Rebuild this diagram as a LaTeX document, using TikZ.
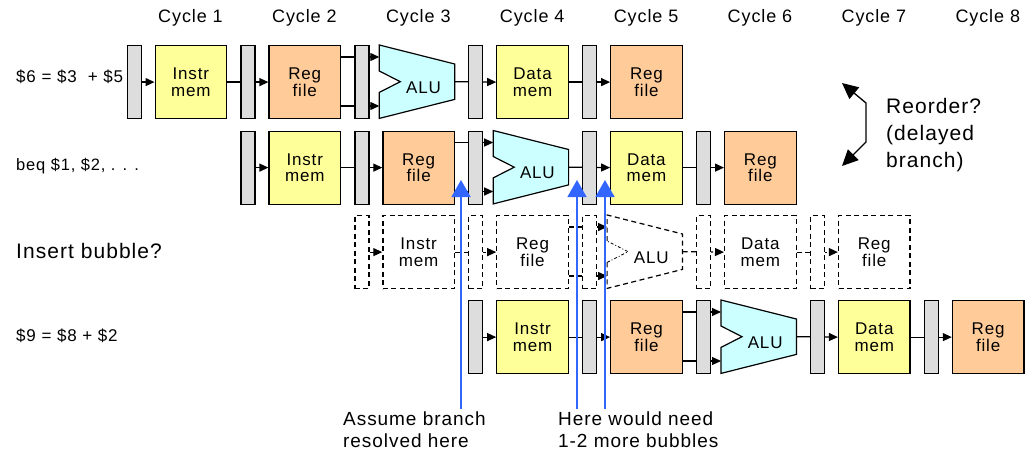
\documentclass[tikz,border=0pt]{standalone}
\usepackage{fontspec}
\setmainfont{Liberation Sans}[LetterSpace=5]
\usetikzlibrary{arrows.meta}

\definecolor{memYellow}{HTML}{FFFF99}
\definecolor{regPeach}{HTML}{FFCC99}
\definecolor{aluCyan}{HTML}{CCFFFF}
\definecolor{barGray}{HTML}{DDDDDD}
\definecolor{hintBlue}{HTML}{3366FF}

\pgfdeclarelayer{wires}
\pgfsetlayers{wires,main}

\newcommand\setfs[2]{\fontsize{#1}{#2}\selectfont}

\tikzset{
  stage/.style={draw, line width=1.2pt, inner sep=0pt, anchor=north west, minimum height=73pt},
  pbar/.style={stage, minimum width=14pt},
  box/.style={stage, minimum width=71.5pt, align=center, font=\setfs{17}{16.6}},
  alubox/.style={anchor=north west, inner sep=0pt, minimum width=75pt, minimum height=73pt},
  alutext/.style={anchor=base, inner sep=0pt, font=\setfs{17}{20}},
  ghost dash/.style={dash pattern=on 5pt off 3.5pt},
  % solid pipeline look
  real bar/.style={fill=barGray},
  real mem/.style={fill=memYellow},
  real reg/.style={fill=regPeach},
  real line/.style={},
  real alu outline/.style={draw, fill=aluCyan, line width=1.2pt, line join=miter},
  real alu shell/.style={},
  real alu notch/.style={},
  % bubble (ghost) pipeline look
  ghost bar/.style={fill=white, ghost dash},
  ghost mem/.style={fill=white, ghost dash},
  ghost reg/.style={fill=white, ghost dash},
  ghost line/.style={ghost dash},
  ghost alu outline/.style={fill=white},
  ghost alu shell/.style={draw, line width=1.2pt, ghost dash},
  ghost alu notch/.style={draw, line width=0.8pt, dash pattern=on 3pt off 2pt on 1pt off 2pt},
  wire/.style={line width=1.2pt, -{Triangle[length=9pt,width=8pt]}},
  cyclelabel/.style={anchor=base, inner sep=0pt, font=\setfs{18}{21}},
  rowlabel/.style={anchor=base west, inner sep=0pt},
  note/.style={anchor=north west, inner sep=0pt, align=left},
  hint/.style={draw=hintBlue, line width=1.4pt, -{Triangle[length=17pt,width=19pt]}},
  swap/.style={line width=1.3pt, {Triangle[length=16pt,width=15pt]}-{Triangle[length=16pt,width=15pt]}},
}

% One five-stage instruction: #1 name prefix, #2 first column, #3 top edge, #4 look (real/ghost)
\newcommand\drawpipe[4]{%
  \foreach \i in {0,...,4} {
    \node[pbar, #4 bar] (#1b\i) at ({126.5+113.9*(#2+\i)},#3) {};
  }
  \node[box, #4 mem] (#1im) at ({154.5+113.9*(#2)},#3) {Instr\\mem};
  \node[box, #4 reg] (#1rf) at ({154.5+113.9*(#2+1)},#3) {Reg\\file};
  \node[alubox] (#1alu) at ({151.5+113.9*(#2+2)},#3) {};
  \node[box, #4 mem] (#1dm) at ({154.5+113.9*(#2+3)},#3) {Data\\mem};
  \node[box, #4 reg] (#1wb) at ({154.5+113.9*(#2+4)},#3) {Reg\\file};
  % ALU body with the notch on its input side
  \path[#4 alu outline] (#1alu.north west) -- ([yshift=-19pt]#1alu.north east)
    -- ([yshift=19pt]#1alu.south east) -- (#1alu.south west)
    -- ([yshift=26pt]#1alu.south west) -- ([xshift=21pt]#1alu.west)
    -- ([yshift=-26pt]#1alu.north west) -- cycle;
  \path[#4 alu shell] ([yshift=-26pt]#1alu.north west) -- (#1alu.north west)
    -- ([yshift=-19pt]#1alu.north east) -- ([yshift=19pt]#1alu.south east)
    -- (#1alu.south west) -- ([yshift=26pt]#1alu.south west);
  \path[#4 alu notch] ([yshift=26pt]#1alu.south west) -- ([xshift=21pt]#1alu.west)
    -- ([yshift=-26pt]#1alu.north west);
  \node[alutext] (#1alutxt) at ([xshift=6.5pt,yshift=-11.5pt]#1alu.center) {ALU};
  \begin{pgfonlayer}{wires}
    \draw[wire, #4 line] (#1b0) -- (#1im);
    \draw[wire, #4 line] (#1im) -- (#1rf);
    \draw[wire, #4 line] ([yshift=-12pt]#1rf.north east) -- ([yshift=-12pt]#1alu.north west);
    \draw[wire, #4 line] ([yshift=-61pt]#1rf.north east) -- ([yshift=-61pt]#1alu.north west);
    \draw[wire, #4 line] (#1alu.east) -- (#1dm.west);
    \draw[wire, #4 line] (#1dm) -- (#1wb);
  \end{pgfonlayer}
}

\begin{document}
\begin{tikzpicture}[x=1pt,y=-1pt]
\useasboundingbox (0,0) rectangle (1026,452);

% clock cycle headings
\foreach \k in {1,...,8} {
  \node[cyclelabel] (cyc\k) at ({190.5+113.9*(\k-1)},23) {Cycle \k};
}

% instruction rows
\drawpipe{p}{0}{45}{real}
\drawpipe{q}{1}{130.5}{real}
\drawpipe{g}{2}{215}{ghost}
\drawpipe{s}{3}{300}{real}

% row captions
\node[rowlabel, font=\setfs{17}{20}] (lblA) at (16,82) {\$6 = \$3\ \ + \$5};
\node[rowlabel, font=\setfs{16.5}{20}] (lblB) at (16,170) {beq \$1, \$2, . . .};
\node[rowlabel, font=\setfs{21}{25}] (lblC) at (16,258) {Insert bubble?};
\node[rowlabel, font=\setfs{17}{20}] (lblD) at (16,341) {\$9 = \$8 + \$2};

% reordering remark
\node[note, font=\setfs{21}{27}] (reorder) at (886,97.7) {Reorder?\\(delayed\\branch)};
\coordinate (swapTop) at (842,83);
\coordinate (swapA) at (866,103);
\coordinate (swapB) at (866,142);
\coordinate (swapBot) at (842,166);
\draw[swap] (swapTop) -- (swapA) -- (swapB) -- (swapBot);

% branch resolution hints
\node[note, font=\setfs{19}{22}] (resolved) at (343,411.4) {Assume branch\\resolved here};
\node[note, font=\setfs{19}{22}] (needmore) at (558,411.4) {Here would need\\1-2 more bubbles};
\coordinate (hintAfoot) at (461,409);
\coordinate (hintAtip) at (461,180);
\coordinate (hintBfoot) at (577,409);
\coordinate (hintBtip) at (577,180);
\coordinate (hintCfoot) at (605,409);
\coordinate (hintCtip) at (605,180);
\draw[hint] (hintAfoot) -- (hintAtip);
\draw[hint] (hintBfoot) -- (hintBtip);
\draw[hint] (hintCfoot) -- (hintCtip);
\end{tikzpicture}
\end{document}
